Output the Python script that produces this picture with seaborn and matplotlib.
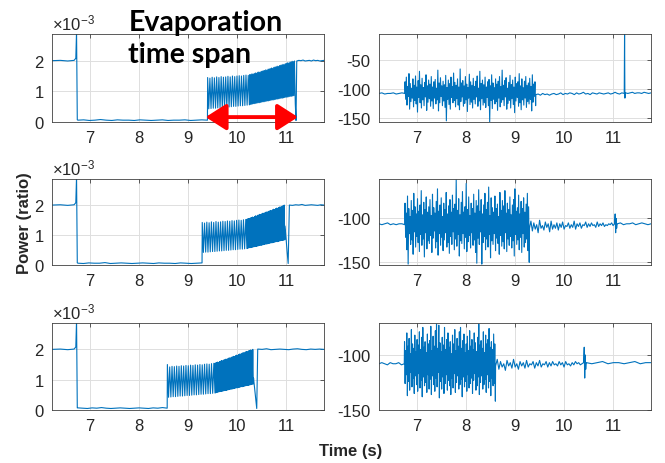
import numpy as np
import pandas as pd
import matplotlib
matplotlib.use("Agg")
import matplotlib.pyplot as plt
import seaborn as sns
from matplotlib.patches import FancyArrowPatch

# ------------------------------------------------------------------ data
XTICKS = [7, 8, 9, 10, 11]

# ---- left column: power ratio (values in units of 1e-3) ----
pre_t = [6.23, 6.40, 6.55, 6.68, 6.715, 6.73, 6.745]
pre_v = [2.00, 2.01, 1.99, 2.01, 2.08, 2.95, 0.07]

# top-left
tl_onset, tl_dense, tl_end, tl_dip_end, tl_recover = 9.40, 10.25, 11.18, 11.20, 11.215
tl_low = [0.06, 0.07, 0.05, 0.06, 0.08, 0.06, 0.05, 0.07, 0.06, 0.06, 0.05, 0.07,
          0.06, 0.05, 0.06, 0.07, 0.05, 0.06, 0.06, 0.07, 0.05, 0.06, 0.07, 0.06]
tl_saw1_hi = [1.45, 1.43, 1.46, 1.44, 1.47, 1.45, 1.48, 1.46, 1.47, 1.49, 1.47, 1.50,
              1.48, 1.50, 1.51, 1.50, 1.52, 1.53, 1.52]
tl_saw1_lo = [0.43, 0.44, 0.45, 0.45, 0.46, 0.47, 0.47, 0.48, 0.49, 0.49, 0.50, 0.51,
              0.51, 0.52, 0.53, 0.53, 0.54, 0.55, 0.56]
tl_saw2_hi = [1.54, 1.55, 1.57, 1.56, 1.58, 1.60, 1.59, 1.62, 1.63, 1.62, 1.65, 1.66,
              1.67, 1.68, 1.70, 1.69, 1.72, 1.73, 1.74, 1.76, 1.75, 1.78, 1.79, 1.80,
              1.82, 1.81, 1.84, 1.85, 1.86, 1.88, 1.87, 1.90, 1.91, 1.93, 1.92, 1.95,
              1.96, 1.98, 1.97, 1.99]
tl_saw2_lo = [0.57, 0.58, 0.59, 0.60, 0.60, 0.61, 0.62, 0.63, 0.63, 0.64, 0.65, 0.66,
              0.66, 0.67, 0.68, 0.69, 0.69, 0.70, 0.71, 0.72, 0.72, 0.73, 0.74, 0.75,
              0.75, 0.76, 0.77, 0.78, 0.78, 0.79, 0.80, 0.81, 0.81, 0.82, 0.83, 0.84,
              0.84, 0.85, 0.86, 0.87]
tl_dip = [0.60, 0.05]
tl_post = [1.99, 2.01, 2.00, 2.02, 1.99, 2.00, 2.01, 1.99, 2.02, 2.00, 2.01, 1.99, 2.00, 2.01]

# middle-left
ml_onset, ml_dense, ml_end, ml_dip_end, ml_recover = 9.29, 10.20, 10.97, 11.04, 11.065
ml_low = [0.06, 0.05, 0.07, 0.06, 0.06, 0.08, 0.05, 0.06, 0.07, 0.06, 0.05, 0.06,
          0.07, 0.06, 0.05, 0.07, 0.06, 0.06, 0.05, 0.07, 0.06, 0.05, 0.06, 0.07]
ml_saw1_hi = [1.42, 1.40, 1.43, 1.41, 1.44, 1.42, 1.45, 1.43, 1.44, 1.46, 1.45, 1.47,
              1.46, 1.48, 1.47, 1.49, 1.50, 1.49, 1.51, 1.52]
ml_saw1_lo = [0.42, 0.43, 0.43, 0.44, 0.45, 0.45, 0.46, 0.47, 0.47, 0.48, 0.49, 0.49,
              0.50, 0.51, 0.51, 0.52, 0.53, 0.53, 0.54, 0.55]
ml_saw2_hi = [1.53, 1.55, 1.54, 1.57, 1.58, 1.60, 1.59, 1.62, 1.64, 1.63, 1.66, 1.67,
              1.69, 1.68, 1.71, 1.73, 1.72, 1.75, 1.77, 1.76, 1.79, 1.80, 1.82, 1.81,
              1.84, 1.86, 1.85, 1.88, 1.90, 1.89, 1.92, 1.94, 1.93, 1.96, 1.98, 2.00]
ml_saw2_lo = [0.56, 0.57, 0.58, 0.58, 0.59, 0.60, 0.61, 0.62, 0.62, 0.63, 0.64, 0.65,
              0.66, 0.66, 0.67, 0.68, 0.69, 0.70, 0.70, 0.71, 0.72, 0.73, 0.74, 0.74,
              0.75, 0.76, 0.77, 0.78, 0.78, 0.79, 0.80, 0.81, 0.82, 0.82, 0.83, 0.84]
ml_dip = [1.30, 0.90, 0.45, 0.05]
ml_post = [2.00, 1.99, 2.01, 2.00, 2.02, 1.99, 2.00, 2.01, 2.00, 1.99, 2.01, 2.00]

# bottom-left
bl_onset, bl_dense, bl_end, bl_dip_end, bl_recover = 8.58, 9.55, 10.33, 10.40, 10.42
bl_low = [0.07, 0.06, 0.05, 0.07, 0.06, 0.08, 0.06, 0.05, 0.06, 0.07, 0.06, 0.05,
          0.06, 0.07, 0.06, 0.05, 0.07, 0.06, 0.08, 0.06]
bl_saw1_hi = [1.50, 1.42, 1.44, 1.43, 1.45, 1.44, 1.46, 1.45, 1.47, 1.46, 1.48, 1.47,
              1.49, 1.48, 1.50, 1.49, 1.51, 1.52, 1.51, 1.53, 1.54]
bl_saw1_lo = [0.42, 0.43, 0.44, 0.44, 0.45, 0.46, 0.46, 0.47, 0.48, 0.48, 0.49, 0.50,
              0.50, 0.51, 0.52, 0.52, 0.53, 0.54, 0.54, 0.55, 0.56]
bl_saw2_hi = [1.55, 1.56, 1.58, 1.57, 1.60, 1.61, 1.63, 1.62, 1.65, 1.66, 1.68, 1.67,
              1.70, 1.72, 1.71, 1.74, 1.75, 1.77, 1.76, 1.79, 1.81, 1.80, 1.83, 1.85,
              1.84, 1.87, 1.89, 1.88, 1.91, 1.93, 1.92, 1.95, 1.96, 1.98, 1.97, 2.00]
bl_saw2_lo = [0.57, 0.58, 0.59, 0.60, 0.61, 0.61, 0.62, 0.63, 0.64, 0.65, 0.65, 0.66,
              0.67, 0.68, 0.69, 0.69, 0.70, 0.71, 0.72, 0.73, 0.73, 0.74, 0.75, 0.76,
              0.77, 0.77, 0.78, 0.79, 0.80, 0.81, 0.81, 0.82, 0.83, 0.84, 0.85, 0.86]
bl_dip = [1.05, 0.55, 0.05]
bl_post = [2.01, 2.00, 2.02, 1.99, 2.00, 2.01, 2.00, 1.99, 2.01, 2.02, 2.00, 1.99,
           2.01, 2.00, 2.01, 2.00]

# ---- right column: power (dB) ----
# top-right
tr_noise_span, tr_burst_span = (6.76, 9.42), (11.225, 11.245)
tr_pre = [-108, -107, -109, -108, -108, -107, -109, -108, -107, -108]
tr_hi = [-88, -80, -96, -74, -91, -99, -83, -94, -78, -97, -86, -70, -93, -82, -98, -89, -76, -95, -85, -92,
         -79, -97, -88, -84, -99, -68, -90, -81, -95, -87, -93, -77, -98, -85, -91, -80, -96, -73, -89, -94,
         -83, -97, -66, -90, -86, -95, -79, -92, -98, -75, -88, -94, -82, -96, -87, -78, -99, -70, -91, -85,
         -93, -80, -97, -88, -84, -95, -76, -90, -98, -83, -92, -87, -79, -96, -68, -94, -86, -81, -99, -89,
         -77, -93, -85, -97, -80, -91, -88, -74, -95, -83, -98, -87, -79, -94, -90, -82, -96, -76, -92, -88]
tr_lo = [-118, -128, -113, -135, -122, -116, -131, -120, -126, -140, -115, -124, -133, -119, -129, -114, -137, -123, -117, -130,
         -121, -134, -116, -126, -119, -138, -124, -113, -129, -121, -132, -155, -118, -127, -135, -115, -124, -120, -131, -117,
         -128, -136, -122, -114, -130, -125, -119, -139, -116, -127, -123, -133, -118, -126, -114, -130, -121, -136, -117, -128,
         -124, -132, -115, -129, -157, -120, -134, -118, -126, -122, -137, -116, -131, -123, -119, -129, -114, -135, -125, -120,
         -133, -117, -127, -141, -121, -115, -130, -124, -136, -119, -128, -116, -132, -122, -126, -118, -138, -123, -113, -129]
tr_mid = [-110, -109, -111, -108, -110, -109, -111, -109, -108, -110, -109, -107, -110,
          -108, -109, -107, -108, -110, -107, -109, -108, -106, -109, -108, -110, -107,
          -108, -109, -107, -108, -109, -108, -107, -109, -108, -106, -108, -109, -107,
          -108]
tr_burst = [-108, -5, -116, -109]
tr_post = [-107, -108, -107, -106, -108, -107, -107, -108, -106, -107, -108, -107]

# middle-right
mr_noise_span, mr_burst_span = (6.76, 9.29), (11.03, 11.08)
mr_pre = [-107, -108, -107, -106, -108, -107, -108, -107, -107, -108]
mr_hi = [-84, -95, -76, -90, -99, -81, -92, -73, -88, -96, -79, -93, -86, -70, -97, -83, -91, -77, -94, -88,
         -80, -98, -74, -89, -95, -82, -68, -93, -86, -78, -99, -84, -91, -72, -96, -87, -80, -94, -75, -90,
         -85, -58, -92, -79, -97, -83, -71, -94, -88, -62, -91, -77, -98, -84, -90, -74, -95, -81, -87, -69,
         -93, -80, -96, -86, -73, -91, -83, -66, -98, -78, -89, -94, -76, -90, -85, -99, -72, -92, -81, -87,
         -70, -95, -84, -91, -77, -97, -86, -80, -68, -93, -89, -75, -96, -82, -90, -78, -94, -85, -73, -88]
mr_lo = [-122, -136, -152, -118, -130, -125, -141, -116, -133, -121, -128, -138, -119, -131, -124, -144, -117, -135, -126, -129,
         -120, -139, -123, -115, -134, -127, -142, -118, -131, -122, -137, -125, -117, -133, -128, -140, -121, -130, -116, -136,
         -124, -132, -119, -143, -126, -129, -118, -135, -122, -138, -127, -120, -134, -117, -131, -125, -139, -151, -123, -130,
         -116, -152, -128, -121, -136, -124, -133, -119, -145, -126, -130, -118, -137, -123, -129, -141, -120, -132, -127, -135,
         -117, -138, -124, -131, -121, -134, -126, -143, -119, -130, -125, -136, -122, -139, -118, -133, -128, -124, -137, -150]
mr_mid = [-112, -104, -115, -106, -113, -108, -117, -103, -112, -109, -114, -105, -111,
          -107, -116, -104, -113, -108, -112, -106, -114, -107, -111, -105, -113, -109,
          -110, -106, -112, -108, -111, -104, -113, -107, -110, -106, -112, -108, -109,
          -105, -111, -107, -110, -106, -109, -108, -111, -105, -110, -107, -109, -106,
          -110, -108, -109, -107, -108, -106, -109, -107]
mr_burst = [-104, -96, -117, -101, -112, -107]
mr_post = [-107, -106, -108, -107, -107, -106, -108, -107, -106, -107, -108, -107]

# bottom-right
br_noise_span, br_burst_span = (6.75, 8.60), (10.40, 10.45)
br_pre = [-108, -107, -108, -109, -107, -108, -108, -107, -109, -108]
br_hi = [-88, -96, -80, -92, -85, -99, -77, -90, -94, -82, -97, -86, -91, -79, -95, -84, -75, -93, -88, -98,
         -81, -90, -87, -74, -96, -83, -92, -78, -72, -94, -73, -89, -97, -84, -91, -75, -95, -86, -80, -93,
         -88, -99, -82, -90, -77, -96, -85, -92, -79, -75, -94, -87, -81, -98, -90, -83, -96, -78, -92, -86,
         -95, -80, -89, -97, -84, -72, -91, -87, -94, -79, -98, -82, -90, -86, -76, -93, -88, -95, -81, -90]
br_lo = [-126, -118, -137, -124, -132, -116, -129, -121, -135, -119, -127, -133, -117, -130, -123, -138, -120, -128, -125, -134,
         -118, -131, -122, -136, -119, -127, -133, -121, -129, -116, -139, -124, -131, -120, -135, -126, -118, -132, -123, -128,
         -136, -121, -130, -117, -134, -125, -119, -131, -127, -122, -138, -120, -129, -124, -133, -118, -130, -126, -121, -135,
         -123, -117, -132, -128, -120, -136, -125, -119, -131, -127, -122, -134, -118, -130, -124, -137, -121, -128, -126, -142]
br_mid = [-110, -104, -113, -106, -111, -108, -114, -105, -110, -107, -112, -104, -111,
          -108, -113, -106, -110, -107, -112, -105, -111, -108, -109, -106, -112, -107,
          -110, -105, -111, -108, -109, -106, -111, -107, -110, -106, -109, -108, -110,
          -106, -109, -107, -111, -106, -109, -108, -110, -107, -109, -106, -108, -107,
          -109, -108, -107]
br_burst = [-103, -93, -121, -100, -113, -107]
br_post = [-107, -108, -107, -106, -108, -107, -107, -108, -107, -106, -108, -107, -107]

arrow_span = (9.36, 11.24)
arrow_level = 0.16

# ------------------------------------------------------------------ helpers
XMIN, XMAX = 6.23, 11.77


def interleave(hi, lo):
    out = np.empty(len(hi) + len(lo))
    out[0::2] = hi
    out[1::2] = lo
    return out


def left_frame(low, onset, dense, s1h, s1l, s2h, s2l, end, dip, dip_end, recover, post):
    parts_t = [np.array(pre_t),
               np.linspace(6.76, onset - 0.004, len(low)),
               np.linspace(onset, dense, 2 * len(s1h)),
               np.linspace(dense + 0.005, end, 2 * len(s2h)),
               np.linspace(end + 0.005, dip_end, len(dip)),
               np.linspace(recover, XMAX, len(post))]
    parts_v = [np.array(pre_v), np.array(low), interleave(s1h, s1l),
               interleave(s2h, s2l), np.array(dip), np.array(post)]
    return pd.DataFrame({"t": np.concatenate(parts_t), "v": np.concatenate(parts_v)})


def right_frame(pre, span, hi, lo, mid, burst_span, burst, post):
    parts_t = [np.linspace(XMIN, span[0] - 0.005, len(pre)),
               np.linspace(span[0], span[1], len(hi) + len(lo)),
               np.linspace(span[1] + 0.005, burst_span[0] - 0.003, len(mid)),
               np.linspace(burst_span[0], burst_span[1], len(burst)),
               np.linspace(burst_span[1] + 0.005, XMAX, len(post))]
    parts_v = [np.array(pre), interleave(hi, lo), np.array(mid), np.array(burst), np.array(post)]
    return pd.DataFrame({"t": np.concatenate(parts_t), "v": np.concatenate(parts_v)})


left_data = [
    left_frame(tl_low, tl_onset, tl_dense, tl_saw1_hi, tl_saw1_lo, tl_saw2_hi, tl_saw2_lo,
               tl_end, tl_dip, tl_dip_end, tl_recover, tl_post),
    left_frame(ml_low, ml_onset, ml_dense, ml_saw1_hi, ml_saw1_lo, ml_saw2_hi, ml_saw2_lo,
               ml_end, ml_dip, ml_dip_end, ml_recover, ml_post),
    left_frame(bl_low, bl_onset, bl_dense, bl_saw1_hi, bl_saw1_lo, bl_saw2_hi, bl_saw2_lo,
               bl_end, bl_dip, bl_dip_end, bl_recover, bl_post),
]
right_data = [
    right_frame(tr_pre, tr_noise_span, tr_hi, tr_lo, tr_mid, tr_burst_span, tr_burst, tr_post),
    right_frame(mr_pre, mr_noise_span, mr_hi, mr_lo, mr_mid, mr_burst_span, mr_burst, mr_post),
    right_frame(br_pre, br_noise_span, br_hi, br_lo, br_mid, br_burst_span, br_burst, br_post),
]
right_ylims = [(-157, -6), (-153, -57), (-150, -71)]
right_yticks = [[-150, -100, -50], [-150, -100], [-150, -100]]

# ------------------------------------------------------------------ figure
sns.set_style("white")
plt.rcParams["font.family"] = ["Liberation Sans", "DejaVu Sans"]
plt.rcParams["mathtext.fontset"] = "custom"
plt.rcParams["mathtext.rm"] = "Liberation Sans"
plt.rcParams["mathtext.it"] = "Liberation Sans"
plt.rcParams["axes.unicode_minus"] = False

W, H = 665, 464
fig = plt.figure(figsize=(W / 100, H / 100), dpi=100)
BLUE = "#0072BD"
AX_COL = "#404040"
TXT_COL = "#262626"

rows = [(35, 123), (180, 266), (324, 411)]
cols = [(52, 324), (379, 651)]


def make_ax(col, row):
    x0, x1 = cols[col]
    y0, y1 = rows[row]
    return fig.add_axes([x0 / W, 1 - y1 / H, (x1 - x0) / W, (y1 - y0) / H])


def style(ax):
    ax.set_xlim(XMIN, XMAX)
    ax.set_xticks(XTICKS)
    ax.grid(True, color="#dedede", linewidth=0.7)
    ax.set_axisbelow(True)
    for s in ax.spines.values():
        s.set_color(AX_COL)
        s.set_linewidth(0.6)
        s.set_visible(True)
    ax.tick_params(direction="in", length=3, width=0.6, color=AX_COL,
                   labelsize=12, labelcolor=TXT_COL, pad=6, top=True, right=True)
    ax.set_xlabel("")
    ax.set_ylabel("")


axes_left = []
for r in range(3):
    ax = make_ax(0, r)
    sns.lineplot(data=left_data[r], x="t", y="v", ax=ax, estimator=None, sort=False,
                 color=BLUE, linewidth=0.8)
    style(ax)
    ax.set_ylim(0, 2.87)
    ax.set_yticks([0, 1, 2])
    ax.set_yticklabels(["0", "1", "2"])
    ax.text(0.0, 1.015, r"$\times10^{-3}$", transform=ax.transAxes, ha="left", va="bottom",
            fontsize=12, color=TXT_COL)
    axes_left.append(ax)

for r in range(3):
    ax = make_ax(1, r)
    sns.lineplot(data=right_data[r], x="t", y="v", ax=ax, estimator=None, sort=False,
                 color=BLUE, linewidth=0.8)
    style(ax)
    ax.set_ylim(*right_ylims[r])
    ax.set_yticks(right_yticks[r])

# red double arrow marking the evaporation span
arr = FancyArrowPatch((arrow_span[0], arrow_level), (arrow_span[1], arrow_level),
                      arrowstyle="<|-|>,head_length=1.25,head_width=0.8", mutation_scale=10,
                      color="#ff0000", linewidth=2.8, shrinkA=0, shrinkB=0, clip_on=False,
                      zorder=5)
axes_left[0].add_patch(arr)

fig.text(129 / W, 1 - 31 / H, "Evaporation", ha="left", va="baseline",
         fontsize=20.5, fontweight="bold", family=["Lato", "DejaVu Sans"], color="black")
fig.text(128 / W, 1 - 63 / H, "time span", ha="left", va="baseline",
         fontsize=20.5, fontweight="bold", family=["Lato", "DejaVu Sans"], color="black")

fig.text(25 / W, 1 - 223 / H, "Power (ratio)", rotation=90, ha="center", va="center",
         fontsize=12, fontweight="bold", color=TXT_COL)
fig.text(351 / W, 1 - 452 / H, "Time (s)", ha="center", va="center",
         fontsize=12, fontweight="bold", color=TXT_COL)

fig.savefig("out.png", dpi=100)
